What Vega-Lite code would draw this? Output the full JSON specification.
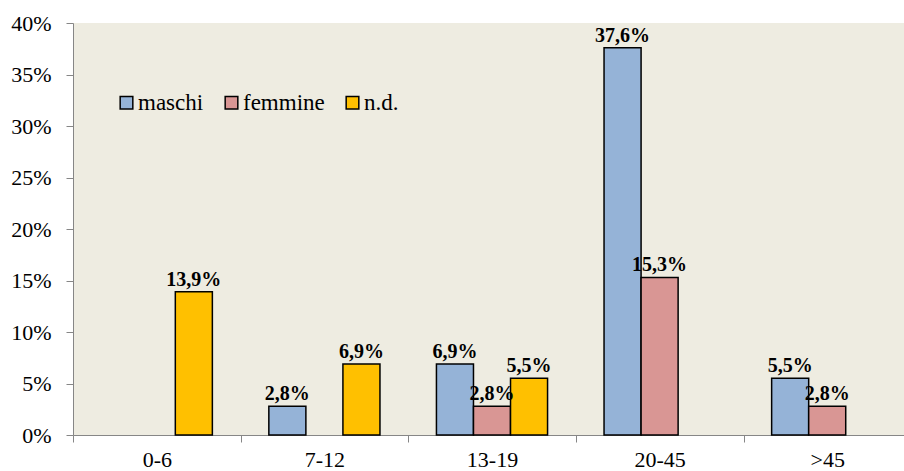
{
  "$schema": "https://vega.github.io/schema/vega-lite/v6.json",
  "width": 838,
  "height": 412,
  "autosize": "none",
  "padding": {"left": 73, "top": 23, "right": 0, "bottom": 36},
  "background": "white",
  "config": {
    "locale": {"number": {"decimal": ",", "thousands": ".", "grouping": [3], "currency": ["", " €"]}},
    "view": {"fill": "#EEECE1", "stroke": null},
    "font": "Liberation Serif"
  },
  "data": {
    "values": [
      {"age": "0-6", "sex": "n.d.", "value": 0.139},
      {"age": "7-12", "sex": "maschi", "value": 0.028},
      {"age": "7-12", "sex": "n.d.", "value": 0.069},
      {"age": "13-19", "sex": "maschi", "value": 0.069},
      {"age": "13-19", "sex": "femmine", "value": 0.028},
      {"age": "13-19", "sex": "n.d.", "value": 0.055},
      {"age": "20-45", "sex": "maschi", "value": 0.376},
      {"age": "20-45", "sex": "femmine", "value": 0.153},
      {"age": ">45", "sex": "maschi", "value": 0.055},
      {"age": ">45", "sex": "femmine", "value": 0.028}
    ]
  },
  "encoding": {
    "x": {
      "field": "age", "type": "nominal", "sort": ["0-6", "7-12", "13-19", "20-45", ">45"],
      "scale": {"paddingInner": 0.337, "paddingOuter": 0.1685},
      "axis": {
        "title": null, "labelAngle": 0, "bandPosition": 0, "tickOffset": -28, "labelOffset": 28,
        "labelFont": "Liberation Serif", "labelFontSize": 22, "labelColor": "black",
        "domainColor": "#868686", "tickColor": "#868686", "tickSize": 7, "labelPadding": 7
      }
    },
    "xOffset": {"field": "sex", "type": "nominal", "sort": ["maschi", "femmine", "n.d."], "scale": {"domain": ["maschi", "femmine", "n.d."], "paddingInner": 0, "paddingOuter": 0}},
    "y": {
      "field": "value", "type": "quantitative",
      "scale": {"domain": [0, 0.4], "nice": false},
      "axis": {
        "title": null, "format": ".0%", "values": [0, 0.05, 0.1, 0.15, 0.2, 0.25, 0.3, 0.35, 0.4],
        "grid": false, "labelFont": "Liberation Serif", "labelFontSize": 22, "labelColor": "black",
        "domainColor": "#868686", "tickColor": "#868686", "tickSize": 7, "labelPadding": 15
      }
    }
  },
  "layer": [
    {
      "mark": {"type": "bar", "stroke": "black", "strokeWidth": 1.5},
      "encoding": {
        "color": {
          "field": "sex", "type": "nominal",
          "scale": {"domain": ["maschi", "femmine", "n.d."], "range": ["#95B3D7", "#D99694", "#FFC000"]},
          "legend": {
            "title": null, "orient": "none", "direction": "horizontal", "legendX": 42, "legendY": 68,
            "symbolType": "square", "symbolSize": 160, "symbolStrokeColor": "black", "symbolStrokeWidth": 1.5,
            "labelFont": "Liberation Serif", "labelFontSize": 23, "labelColor": "black",
            "columnPadding": 16, "labelOffset": 0
          }
        }
      }
    },
    {
      "mark": {"type": "text", "baseline": "alphabetic", "dy": -6, "fontWeight": "bold", "fontSize": 20, "font": "Liberation Serif", "color": "black"},
      "encoding": {
        "text": {"field": "value", "type": "quantitative", "format": ".1%"}
      }
    }
  ]
}
